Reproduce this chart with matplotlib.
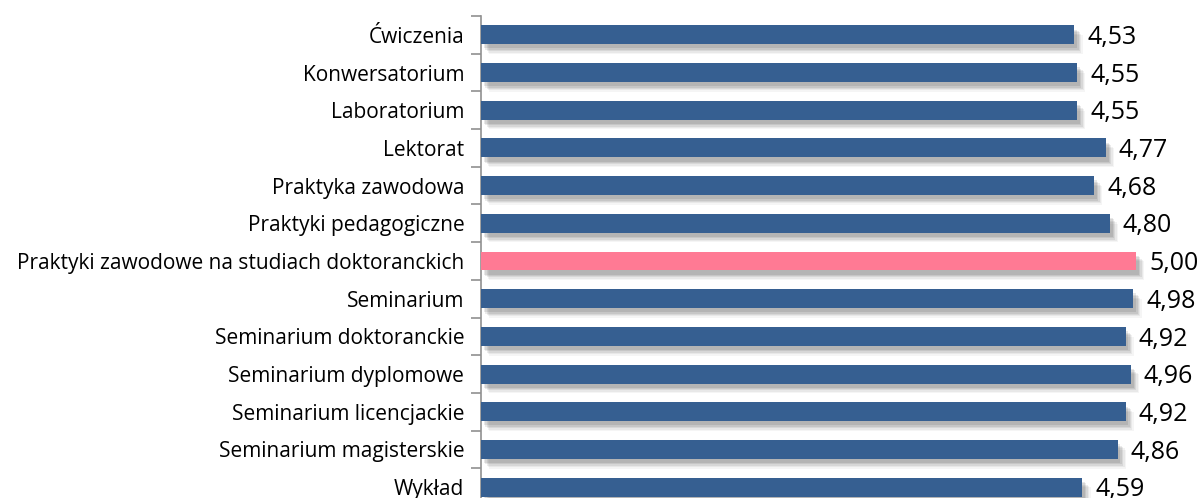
import numpy as np
import matplotlib
matplotlib.use("Agg")
from matplotlib import pyplot as plt
from matplotlib import patheffects as pe

categories = ["Ćwiczenia", "Konwersatorium", "Laboratorium", "Lektorat",
              "Praktyka zawodowa", "Praktyki pedagogiczne",
              "Praktyki zawodowe na studiach doktoranckich", "Seminarium",
              "Seminarium doktoranckie", "Seminarium dyplomowe",
              "Seminarium licencjackie", "Seminarium magisterskie", "Wykład"]
values = [4.53, 4.55, 4.55, 4.77, 4.68, 4.80, 5.00, 4.98, 4.92, 4.96, 4.92, 4.86, 4.59]
highlight = "Praktyki zawodowe na studiach doktoranckich"

blue = "#365F91"
pink = "#FF7A94"

plt.rcParams['font.family'] = ['Open Sans', 'DejaVu Sans']

fig = plt.figure(figsize=[12, 4.98], dpi=100)
ax = fig.add_axes([481/1200, 1-506/498, 720.5/1200, 490/498])

y = np.arange(len(categories))
colors = [pink if c == highlight else blue for c in categories]
bars = ax.barh(y, values, height=0.5, color=colors, zorder=3)

# soft drop shadow built from a few offset layers
shadow = []
for dx, dy, a in [(6, -7, 0.04), (5, -6, 0.05), (4, -5, 0.07), (3, -4, 0.08), (2, -3, 0.09)]:
    shadow.append(pe.SimplePatchShadow(offset=(dx, dy), shadow_rgbFace='k', alpha=a))
for b in bars:
    b.set_path_effects(shadow + [pe.Normal()])

for yi, v in zip(y, values):
    ax.text(v + 0.1, yi + 0.07, "{:.2f}".format(v).replace(".", ","), va="center", ha="left",
            fontsize=18, color="black")

ax.set_xlim(0, 5.5)
ax.set_ylim(len(categories) - 0.5, -0.5)
ax.set_yticks(y)
ax.set_yticklabels(categories, fontsize=15)
ax.tick_params(axis="y", which="major", length=0, pad=12)
ax.set_yticks(np.arange(len(categories) + 1) - 0.5, minor=True)
ax.tick_params(axis="y", which="minor", length=7, color="#909090", width=1.2)
ax.set_xticks([])
for s in ["top", "right", "bottom"]:
    ax.spines[s].set_visible(False)
ax.spines["left"].set_color("#909090")
ax.spines["left"].set_linewidth(1.2)

fig.savefig("out.png", dpi=100)
